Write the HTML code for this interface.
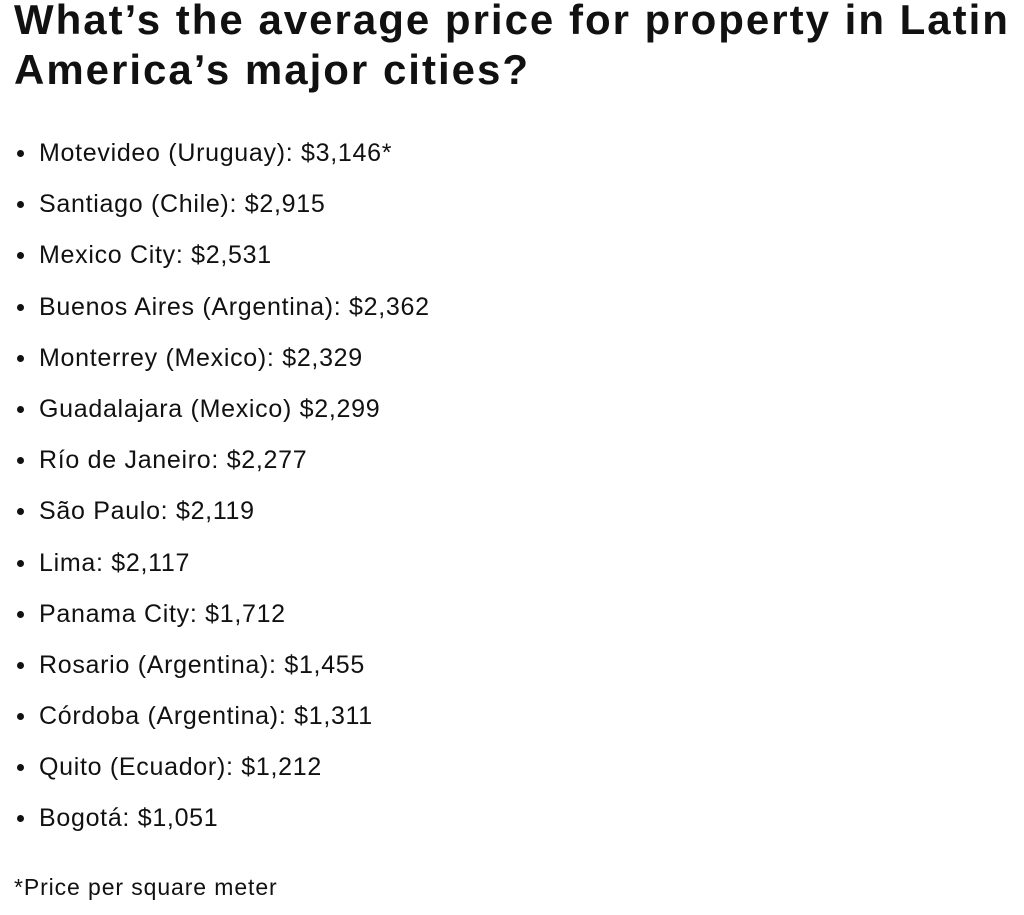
<!DOCTYPE html>
<html><head><meta charset="utf-8"><style>
body{margin:0;background:#fff;width:1024px;height:915px;overflow:hidden;font-family:"Liberation Sans",sans-serif;color:#111;}
h1{position:absolute;left:14px;top:-5px;margin:0;font-size:42px;line-height:50px;font-weight:bold;letter-spacing:2px;width:1010px;white-space:nowrap;}
ul{position:absolute;left:0;top:136px;margin:0;padding:0;list-style:none;}
li{position:relative;padding-left:39px;font-size:25px;letter-spacing:0.7px;height:51.2px;line-height:34px;white-space:nowrap;}
li:before{content:"";position:absolute;left:17px;top:14px;width:7px;height:7px;border-radius:50%;background:#111;}
.f{position:absolute;left:14px;top:872px;font-size:23px;letter-spacing:0.9px;line-height:30px;}
</style></head><body>
<h1>What’s the average price for property in Latin<br>America’s major cities?</h1>
<ul>
<li>Motevideo (Uruguay): $3,146*</li>
<li>Santiago (Chile): $2,915</li>
<li>Mexico City: $2,531</li>
<li>Buenos Aires (Argentina): $2,362</li>
<li>Monterrey (Mexico): $2,329</li>
<li>Guadalajara (Mexico) $2,299</li>
<li>Río de Janeiro: $2,277</li>
<li>São Paulo: $2,119</li>
<li>Lima: $2,117</li>
<li>Panama City: $1,712</li>
<li>Rosario (Argentina): $1,455</li>
<li>Córdoba (Argentina): $1,311</li>
<li>Quito (Ecuador): $1,212</li>
<li>Bogotá: $1,051</li>
</ul>
<div class="f">*Price per square meter</div>
</body></html>
